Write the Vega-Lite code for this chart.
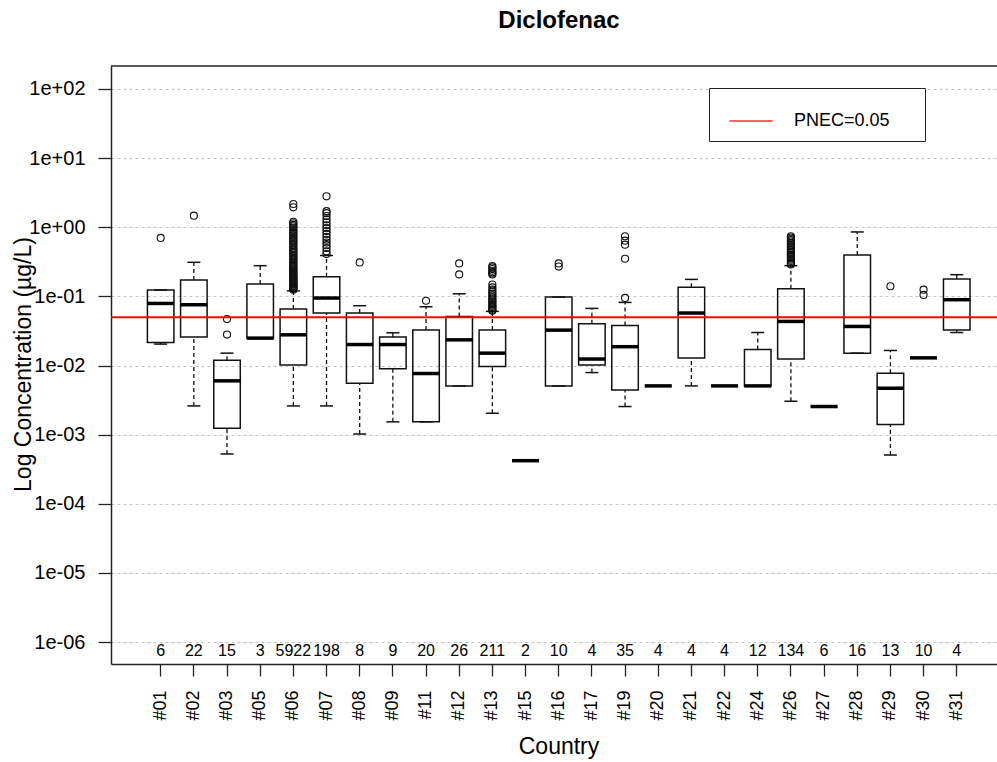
{
  "$schema": "https://vega.github.io/schema/vega-lite/v6.json",
  "width": 886,
  "height": 598,
  "autosize": {"type": "none"},
  "padding": {"left": 111, "top": 66, "right": 0, "bottom": 98},
  "background": "white",
  "title": {"text": "Diclofenac", "fontSize": 24, "fontWeight": "bold", "font": "Liberation Sans", "anchor": "middle", "dx": 5, "offset": 13, "baseline": "alphabetic", "color": "black"},
  "config": {
    "view": {"stroke": null},
    "font": "Liberation Sans",
    "tick": {"opacity": 1},
    "axis": {"domainColor": "#222", "domainWidth": 1.5, "tickColor": "#222", "tickWidth": 1.3, "labelColor": "#000", "titleColor": "#000", "titleFontWeight": "normal", "labelFont": "Liberation Sans", "titleFont": "Liberation Sans"}
  },
  "datasets": {
    "stats": [
      {"country": "#01", "n": "6", "lo": 0.0204, "q1": 0.0216, "med": 0.079, "q3": 0.124, "hi": 0.124},
      {"country": "#02", "n": "22", "lo": 0.0026, "q1": 0.0258, "med": 0.0757, "q3": 0.172, "hi": 0.311},
      {"country": "#03", "n": "15", "lo": 0.000525, "q1": 0.00124, "med": 0.006, "q3": 0.0119, "hi": 0.0151},
      {"country": "#05", "n": "3", "lo": 0.0249, "q1": 0.0249, "med": 0.0249, "q3": 0.151, "hi": 0.278},
      {"country": "#06", "n": "5922", "lo": 0.0026, "q1": 0.0102, "med": 0.0278, "q3": 0.0655, "hi": 0.12},
      {"country": "#07", "n": "198", "lo": 0.0026, "q1": 0.0574, "med": 0.0946, "q3": 0.193, "hi": 0.39},
      {"country": "#08", "n": "8", "lo": 0.00102, "q1": 0.00554, "med": 0.0201, "q3": 0.0574, "hi": 0.0733},
      {"country": "#09", "n": "9", "lo": 0.00153, "q1": 0.00895, "med": 0.0201, "q3": 0.0258, "hi": 0.0297},
      {"country": "#11", "n": "20", "lo": 0.00153, "q1": 0.00153, "med": 0.00766, "q3": 0.0325, "hi": 0.0708},
      {"country": "#12", "n": "26", "lo": 0.00507, "q1": 0.00507, "med": 0.0235, "q3": 0.0513, "hi": 0.109},
      {"country": "#13", "n": "211", "lo": 0.00204, "q1": 0.00968, "med": 0.0151, "q3": 0.0325, "hi": 0.0607},
      {"country": "#15", "n": "2", "lo": 0.00042, "q1": 0.00042, "med": 0.00042, "q3": 0.00042, "hi": 0.00042},
      {"country": "#16", "n": "10", "lo": 0.00507, "q1": 0.00507, "med": 0.0325, "q3": 0.0978, "hi": 0.0978},
      {"country": "#17", "n": "4", "lo": 0.0079, "q1": 0.0102, "med": 0.0124, "q3": 0.0401, "hi": 0.067},
      {"country": "#19", "n": "35", "lo": 0.00255, "q1": 0.00444, "med": 0.0187, "q3": 0.038, "hi": 0.0818},
      {"country": "#20", "n": "4", "lo": 0.00507, "q1": 0.00507, "med": 0.00507, "q3": 0.00507, "hi": 0.00507},
      {"country": "#21", "n": "4", "lo": 0.00507, "q1": 0.0128, "med": 0.0574, "q3": 0.135, "hi": 0.176},
      {"country": "#22", "n": "4", "lo": 0.00507, "q1": 0.00507, "med": 0.00507, "q3": 0.00507, "hi": 0.00507},
      {"country": "#24", "n": "12", "lo": 0.00507, "q1": 0.00507, "med": 0.00507, "q3": 0.0171, "hi": 0.030},
      {"country": "#26", "n": "134", "lo": 0.00304, "q1": 0.0124, "med": 0.0434, "q3": 0.129, "hi": 0.278},
      {"country": "#27", "n": "6", "lo": 0.00255, "q1": 0.00255, "med": 0.00255, "q3": 0.00255, "hi": 0.00255},
      {"country": "#28", "n": "16", "lo": 0.0151, "q1": 0.0151, "med": 0.0367, "q3": 0.397, "hi": 0.855},
      {"country": "#29", "n": "13", "lo": 0.000507, "q1": 0.0014, "med": 0.00469, "q3": 0.00775, "hi": 0.0165},
      {"country": "#30", "n": "10", "lo": 0.0129, "q1": 0.0129, "med": 0.0129, "q3": 0.0129, "hi": 0.0129},
      {"country": "#31", "n": "4", "lo": 0.030, "q1": 0.0325, "med": 0.0895, "q3": 0.178, "hi": 0.206}
    ],
    "outliers": [
      {"country": "#01", "value": 0.70},
      {"country": "#02", "value": 1.47},
      {"country": "#03", "value": 0.047},
      {"country": "#03", "value": 0.028},
      {"country": "#06", "value": 0.125}, {"country": "#06", "value": 0.128}, {"country": "#06", "value": 0.131}, {"country": "#06", "value": 0.134},
      {"country": "#06", "value": 0.137}, {"country": "#06", "value": 0.14}, {"country": "#06", "value": 0.144}, {"country": "#06", "value": 0.148},
      {"country": "#06", "value": 0.152}, {"country": "#06", "value": 0.156}, {"country": "#06", "value": 0.16}, {"country": "#06", "value": 0.165},
      {"country": "#06", "value": 0.17}, {"country": "#06", "value": 0.175}, {"country": "#06", "value": 0.18}, {"country": "#06", "value": 0.186},
      {"country": "#06", "value": 0.192}, {"country": "#06", "value": 0.198}, {"country": "#06", "value": 0.205}, {"country": "#06", "value": 0.212},
      {"country": "#06", "value": 0.22}, {"country": "#06", "value": 0.228}, {"country": "#06", "value": 0.236}, {"country": "#06", "value": 0.245},
      {"country": "#06", "value": 0.255}, {"country": "#06", "value": 0.265}, {"country": "#06", "value": 0.275}, {"country": "#06", "value": 0.29},
      {"country": "#06", "value": 0.3}, {"country": "#06", "value": 0.315}, {"country": "#06", "value": 0.33}, {"country": "#06", "value": 0.345},
      {"country": "#06", "value": 0.36}, {"country": "#06", "value": 0.38}, {"country": "#06", "value": 0.4}, {"country": "#06", "value": 0.42},
      {"country": "#06", "value": 0.44}, {"country": "#06", "value": 0.46}, {"country": "#06", "value": 0.48}, {"country": "#06", "value": 0.5},
      {"country": "#06", "value": 0.53}, {"country": "#06", "value": 0.56}, {"country": "#06", "value": 0.59}, {"country": "#06", "value": 0.62},
      {"country": "#06", "value": 0.65}, {"country": "#06", "value": 0.68}, {"country": "#06", "value": 0.72}, {"country": "#06", "value": 0.76},
      {"country": "#06", "value": 0.8}, {"country": "#06", "value": 0.84}, {"country": "#06", "value": 0.88}, {"country": "#06", "value": 0.93},
      {"country": "#06", "value": 0.98}, {"country": "#06", "value": 1.03}, {"country": "#06", "value": 1.08}, {"country": "#06", "value": 1.14},
      {"country": "#06", "value": 1.2}, {"country": "#06", "value": 1.94}, {"country": "#06", "value": 2.17},
      {"country": "#07", "value": 0.41}, {"country": "#07", "value": 0.45}, {"country": "#07", "value": 0.5}, {"country": "#07", "value": 0.55},
      {"country": "#07", "value": 0.6}, {"country": "#07", "value": 0.66}, {"country": "#07", "value": 0.72}, {"country": "#07", "value": 0.8},
      {"country": "#07", "value": 0.88}, {"country": "#07", "value": 0.97}, {"country": "#07", "value": 1.07}, {"country": "#07", "value": 1.18},
      {"country": "#07", "value": 1.3}, {"country": "#07", "value": 1.45}, {"country": "#07", "value": 1.6}, {"country": "#07", "value": 1.71},
      {"country": "#07", "value": 2.8},
      {"country": "#08", "value": 0.31},
      {"country": "#11", "value": 0.0865},
      {"country": "#12", "value": 0.30},
      {"country": "#12", "value": 0.208},
      {"country": "#13", "value": 0.062}, {"country": "#13", "value": 0.064}, {"country": "#13", "value": 0.067}, {"country": "#13", "value": 0.07},
      {"country": "#13", "value": 0.073}, {"country": "#13", "value": 0.076}, {"country": "#13", "value": 0.08}, {"country": "#13", "value": 0.084},
      {"country": "#13", "value": 0.088}, {"country": "#13", "value": 0.093}, {"country": "#13", "value": 0.098}, {"country": "#13", "value": 0.104},
      {"country": "#13", "value": 0.11}, {"country": "#13", "value": 0.117}, {"country": "#13", "value": 0.125}, {"country": "#13", "value": 0.135},
      {"country": "#13", "value": 0.148}, {"country": "#13", "value": 0.207}, {"country": "#13", "value": 0.215}, {"country": "#13", "value": 0.224},
      {"country": "#13", "value": 0.235}, {"country": "#13", "value": 0.248}, {"country": "#13", "value": 0.262}, {"country": "#13", "value": 0.275},
      {"country": "#16", "value": 0.30},
      {"country": "#16", "value": 0.27},
      {"country": "#19", "value": 0.74}, {"country": "#19", "value": 0.64}, {"country": "#19", "value": 0.56},
      {"country": "#19", "value": 0.35}, {"country": "#19", "value": 0.095},
      {"country": "#26", "value": 0.29}, {"country": "#26", "value": 0.3}, {"country": "#26", "value": 0.31}, {"country": "#26", "value": 0.325},
      {"country": "#26", "value": 0.34}, {"country": "#26", "value": 0.355}, {"country": "#26", "value": 0.37}, {"country": "#26", "value": 0.385},
      {"country": "#26", "value": 0.4}, {"country": "#26", "value": 0.42}, {"country": "#26", "value": 0.44}, {"country": "#26", "value": 0.46},
      {"country": "#26", "value": 0.48}, {"country": "#26", "value": 0.5}, {"country": "#26", "value": 0.53}, {"country": "#26", "value": 0.56},
      {"country": "#26", "value": 0.59}, {"country": "#26", "value": 0.62}, {"country": "#26", "value": 0.65}, {"country": "#26", "value": 0.68},
      {"country": "#26", "value": 0.71}, {"country": "#26", "value": 0.74},
      {"country": "#29", "value": 0.14},
      {"country": "#30", "value": 0.125},
      {"country": "#30", "value": 0.105}
    ]
  },
  "encoding": {
    "x": {
      "field": "country", "type": "nominal", "title": "Country",
      "scale": {"domain": ["#01","#02","#03","#05","#06","#07","#08","#09","#11","#12","#13","#15","#16","#17","#19","#20","#21","#22","#24","#26","#27","#28","#29","#30","#31"], "paddingInner": 0, "paddingOuter": 0.8556, "align": 0.583},
      "axis": {"labelAngle": -90, "labelFontSize": 18, "tickSize": 12, "labelPadding": 14, "titleFontSize": 23, "titleX": 447.5, "titleY": 89, "titleBaseline": "alphabetic", "titleAlign": "center", "grid": false}
    }
  },
  "layer": [
    {
      "data": {"name": "stats"},
      "mark": {"type": "rule", "strokeDash": [4, 3], "color": "#111", "strokeWidth": 1.3},
      "encoding": {
        "y": {"field": "lo", "type": "quantitative", "title": "Log Concentration (µg/L)",
          "scale": {"type": "log", "domain": [4.81e-7, 215], "nice": false, "zero": false},
          "axis": {"values": [1e-6, 1e-5, 1e-4, 1e-3, 1e-2, 1e-1, 1, 10, 100],
            "labelExpr": "'1e' + (datum.value >= 1 ? '+' : '-') + '0' + abs(round(log(datum.value)/LN10))",
            "labelFontSize": 20, "tickSize": 13, "labelPadding": 13,
            "grid": true, "gridDash": [3, 3], "gridColor": "#c4c4c4", "gridWidth": 1,
            "titleFontSize": 23, "titleX": -87.5, "titleY": 298, "titleAngle": -90, "titleAlign": "center", "titleBaseline": "middle"}},
        "y2": {"field": "q1"}
      }
    },
    {
      "data": {"name": "stats"},
      "mark": {"type": "rule", "strokeDash": [4, 3], "color": "#111", "strokeWidth": 1.3},
      "encoding": {"y": {"field": "q3", "type": "quantitative"}, "y2": {"field": "hi"}}
    },
    {
      "data": {"name": "stats"},
      "mark": {"type": "tick", "orient": "horizontal", "size": 13, "thickness": 1.5, "color": "#111", "opacity": 1},
      "encoding": {"y": {"field": "lo", "type": "quantitative"}}
    },
    {
      "data": {"name": "stats"},
      "mark": {"type": "tick", "orient": "horizontal", "size": 13, "thickness": 1.5, "color": "#111", "opacity": 1},
      "encoding": {"y": {"field": "hi", "type": "quantitative"}}
    },
    {
      "data": {"name": "stats"},
      "mark": {"type": "bar", "fill": null, "fillOpacity": 0, "stroke": "#111", "strokeWidth": 1.5, "width": {"band": 0.8}},
      "encoding": {"y": {"field": "q1", "type": "quantitative"}, "y2": {"field": "q3"}}
    },
    {
      "data": {"name": "stats"},
      "mark": {"type": "tick", "orient": "horizontal", "size": 27, "thickness": 3.5, "color": "#000", "opacity": 1},
      "encoding": {"y": {"field": "med", "type": "quantitative"}}
    },
    {
      "data": {"name": "outliers"},
      "mark": {"type": "point", "shape": "circle", "filled": false, "size": 50, "stroke": "#111", "strokeWidth": 1.1, "opacity": 1},
      "encoding": {"y": {"field": "value", "type": "quantitative"}}
    },
    {
      "data": {"name": "stats"},
      "mark": {"type": "text", "fontSize": 16, "baseline": "middle", "align": "center", "color": "#000"},
      "encoding": {"y": {"datum": 7.5e-7}, "text": {"field": "n"}}
    },
    {
      "data": {"values": [{}]},
      "mark": {"type": "rule", "strokeWidth": 2},
      "encoding": {
        "x": null,
        "y": {"datum": 0.05},
        "stroke": {"datum": "PNEC=0.05", "scale": {"domain": ["PNEC=0.05"], "range": ["#ff0000"]},
          "legend": {"orient": "none", "legendX": 598, "legendY": 22, "title": " ", "titleOrient": "right", "titlePadding": 24, "titleFontSize": 2,
            "symbolType": "M-1,-0.025L1,-0.025L1,0.025L-1,0.025Z", "symbolSize": 1849, "symbolStrokeWidth": 0, "symbolStrokeColor": "#ff0000", "symbolFillColor": "#ff0000",
            "labelFontSize": 18, "labelOffset": 21, "padding": 11, "symbolOffset": 9, "strokeColor": "#222", "fillColor": "white", "labelColor": "#000",
            "encode": {"symbols": {"update": {"stroke": {"value": "#ff0000"}, "fill": {"value": "#ff0000"}, "strokeWidth": {"value": 0.2}, "opacity": {"value": 1}}}}}}
      }
    },
    {
      "data": {"values": [{}]},
      "mark": {"type": "rule", "strokeWidth": 1.5, "color": "#222"},
      "encoding": {"x": null, "y": {"datum": 215}}
    }
  ]
}
